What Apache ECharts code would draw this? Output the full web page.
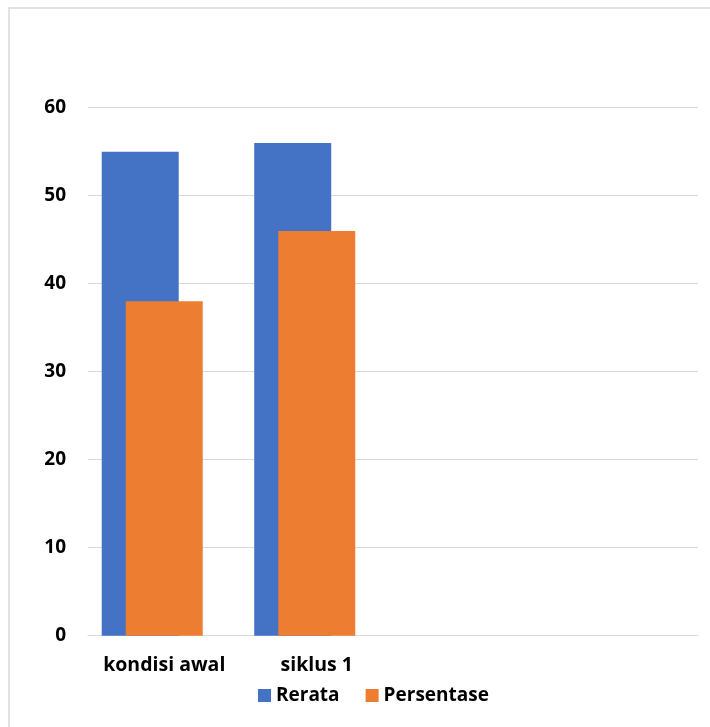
<!DOCTYPE html>
<html>
<head>
<meta charset="utf-8">
<script src="https://cdn.jsdelivr.net/npm/echarts@6/dist/echarts.min.js"></script>
<style>
html,body{margin:0;padding:0;background:#fff;}
#chart{width:710px;height:727px;}
</style>
</head>
<body>
<div id="chart"></div>
<script>
var categories = ['kondisi awal', 'siklus 1', '', ''];
var rerata = [55, 56, null, null];
var persentase = [38, 46, null, null];
var hiddenSeries = [null, null, null, null];
var yTicks = [0, 10, 20, 30, 40, 50, 60];

var FONT = 'Open Sans';
var chart = echarts.init(document.getElementById('chart'));
chart.setOption({
  animation: false,
  backgroundColor: '#ffffff',
  graphic: [{
    type: 'rect',
    shape: { x: 9, y: 8, width: 760, height: 760 },
    style: { fill: 'none', stroke: '#d9d9d9', lineWidth: 1.5 },
    silent: true, z: -1
  }],
  grid: { left: 88, right: 12, top: 107.7, bottom: 91.3 },
  legend: {
    data: ['Rerata', 'Persentase'],
    left: 253, top: 681,
    itemWidth: 13, itemHeight: 13, itemGap: 26,
    icon: 'rect',
    textStyle: { fontFamily: FONT, fontWeight: 'bold', fontSize: 19, color: '#000', padding: [0, 0, 0, 0] }
  },
  xAxis: {
    type: 'category',
    data: categories,
    axisLine: { show: true, lineStyle: { color: '#d9d9d9', width: 1 } },
    axisTick: { show: false },
    axisLabel: { interval: 0, hideOverlap: false, fontFamily: FONT, fontWeight: 'bold', fontSize: 19.5, color: '#000', margin: 20 }
  },
  yAxis: {
    type: 'value',
    min: yTicks[0], max: yTicks[yTicks.length - 1], interval: 10,
    axisLine: { show: false },
    axisTick: { show: false },
    splitLine: { lineStyle: { color: '#d9d9d9', width: 1 } },
    axisLabel: { fontFamily: FONT, fontWeight: 'bold', fontSize: 19, color: '#000', margin: 22 }
  },
  series: [
    { name: 'Rerata', type: 'bar', data: rerata, barWidth: 77, barGap: '-68.8%', itemStyle: { color: '#4472C4' } },
    { name: 'Persentase', type: 'bar', data: persentase, barWidth: 77, barGap: '-68.8%', itemStyle: { color: '#ED7D31' } },
    { name: 'Seri 3', type: 'bar', data: hiddenSeries, barWidth: 77, barGap: '-68.8%', itemStyle: { color: '#A5A5A5' } }
  ]
});
</script>
</body>
</html>
